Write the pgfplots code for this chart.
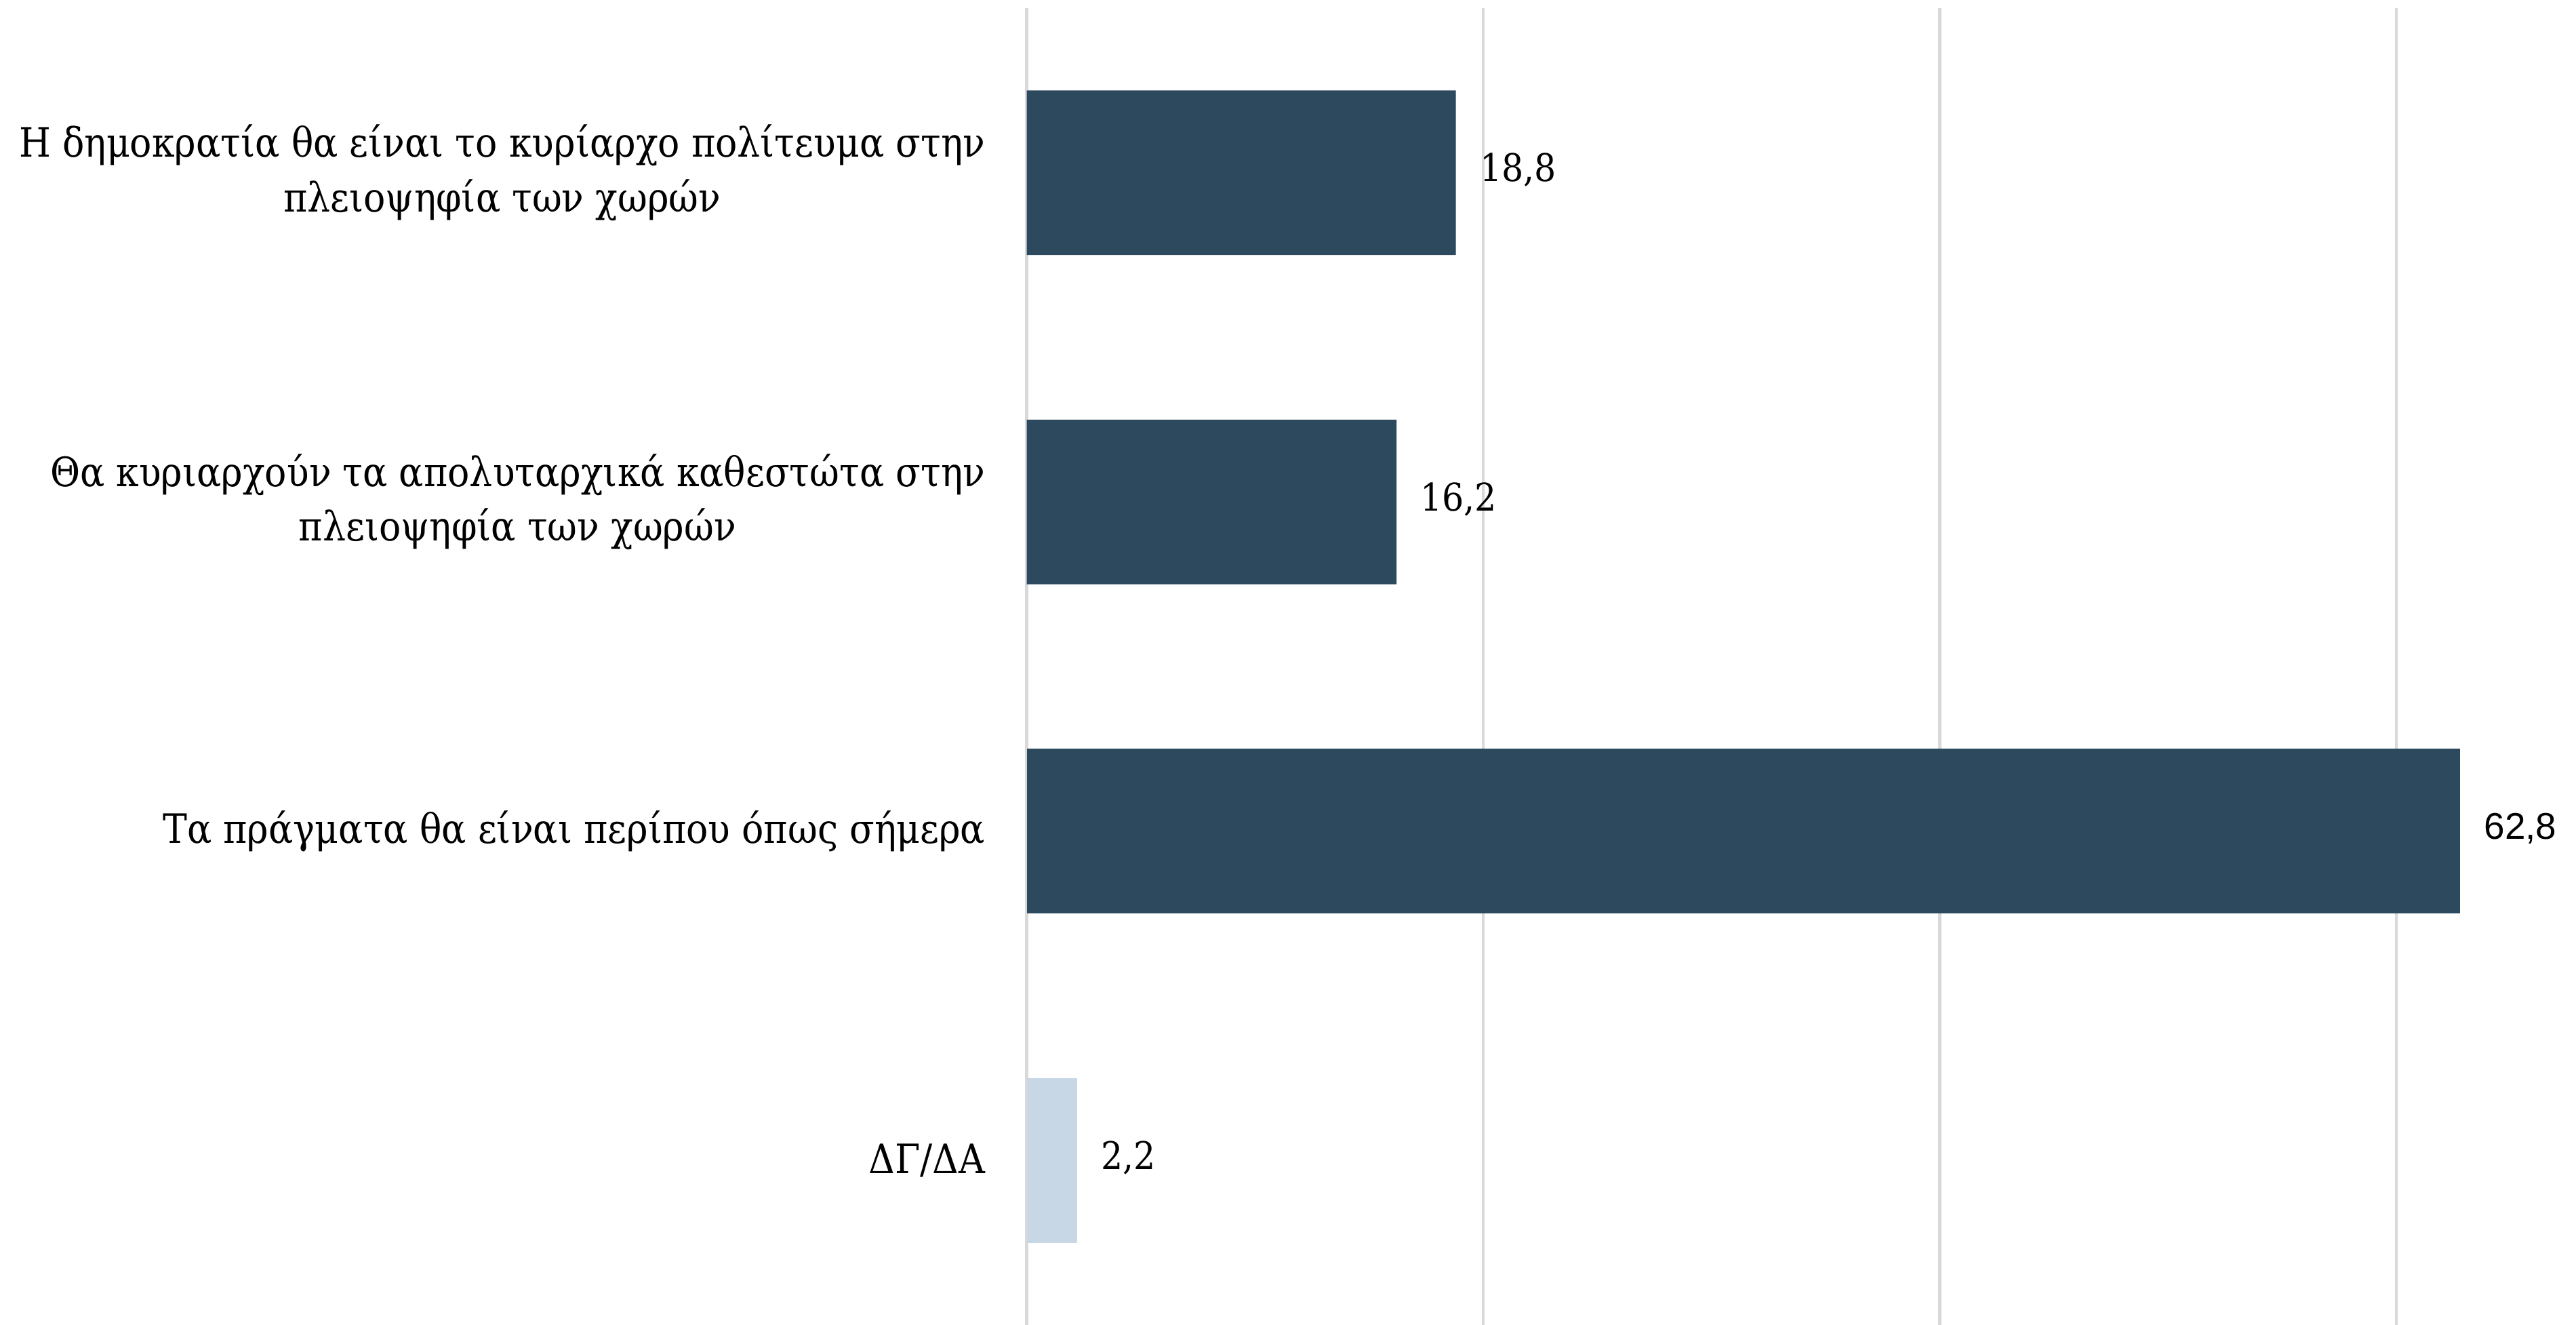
\documentclass[border=0pt]{standalone}
\usepackage{pgfplots}
\pgfplotsset{compat=1.18}
\usepackage{fontspec}
\setmainfont{DejaVu Serif}[FakeStretch=0.9]
\newfontfamily\numfont{Liberation Sans}
\definecolor{bardark}{HTML}{2C495E}
\definecolor{barlight}{HTML}{C8D7E6}
\definecolor{gridgray}{HTML}{D9D9D9}

\begin{document}
\begin{tikzpicture}
\begin{axis}[name=ax, xbar, scale only axis, width=11.28cm, height=9.71cm,
    xmin=0, xmax=67, ymin=-0.5, ymax=3.5, y dir=reverse,
    bar width=0.5, bar shift=0pt,
    xtick={0,20,40,60}, xticklabels={}, xmajorgrids,
    grid style={gridgray, line width=0.6pt},
    axis line style={draw=none}, major tick length=0pt,
    ytick={0,1,2,3},
    yticklabels={{Η δημοκρατία θα είναι το κυρίαρχο πολίτευμα στην\\πλειοψηφία των χωρών},
                 {Θα κυριαρχούν τα απολυταρχικά καθεστώτα στην\\πλειοψηφία των χωρών},
                 {Τα πράγματα θα είναι περίπου όπως σήμερα},
                 {ΔΓ/ΔΑ}},
    yticklabel style={align=center, font=\fontsize{8.5}{11.4}\selectfont, inner sep=0pt, xshift=-0.3cm},
    nodes near coords,
    every node near coord/.append style={font=\fontsize{8}{10}\selectfont, inner sep=0pt, anchor=west, xshift=0.17cm, yshift=0.02cm},
    /pgf/number format/.cd, use comma, fixed, fixed zerofill, precision=1, assume math mode=true]
  \addplot[fill=bardark, draw=none] coordinates {(18.8,0) (16.2,1)};
  \addplot[fill=bardark, draw=none, every node near coord/.append style={font=\numfont\fontsize{7.8}{10}\selectfont}] coordinates {(62.8,2)};
  \addplot[fill=barlight, draw=none] coordinates {(2.2,3)};
\end{axis}
\pgfresetboundingbox
\path[use as bounding box] ([xshift=-7.573cm]ax.south west) rectangle ([xshift=0.147cm, yshift=0.06cm]ax.north east);
\end{tikzpicture}
\end{document}
